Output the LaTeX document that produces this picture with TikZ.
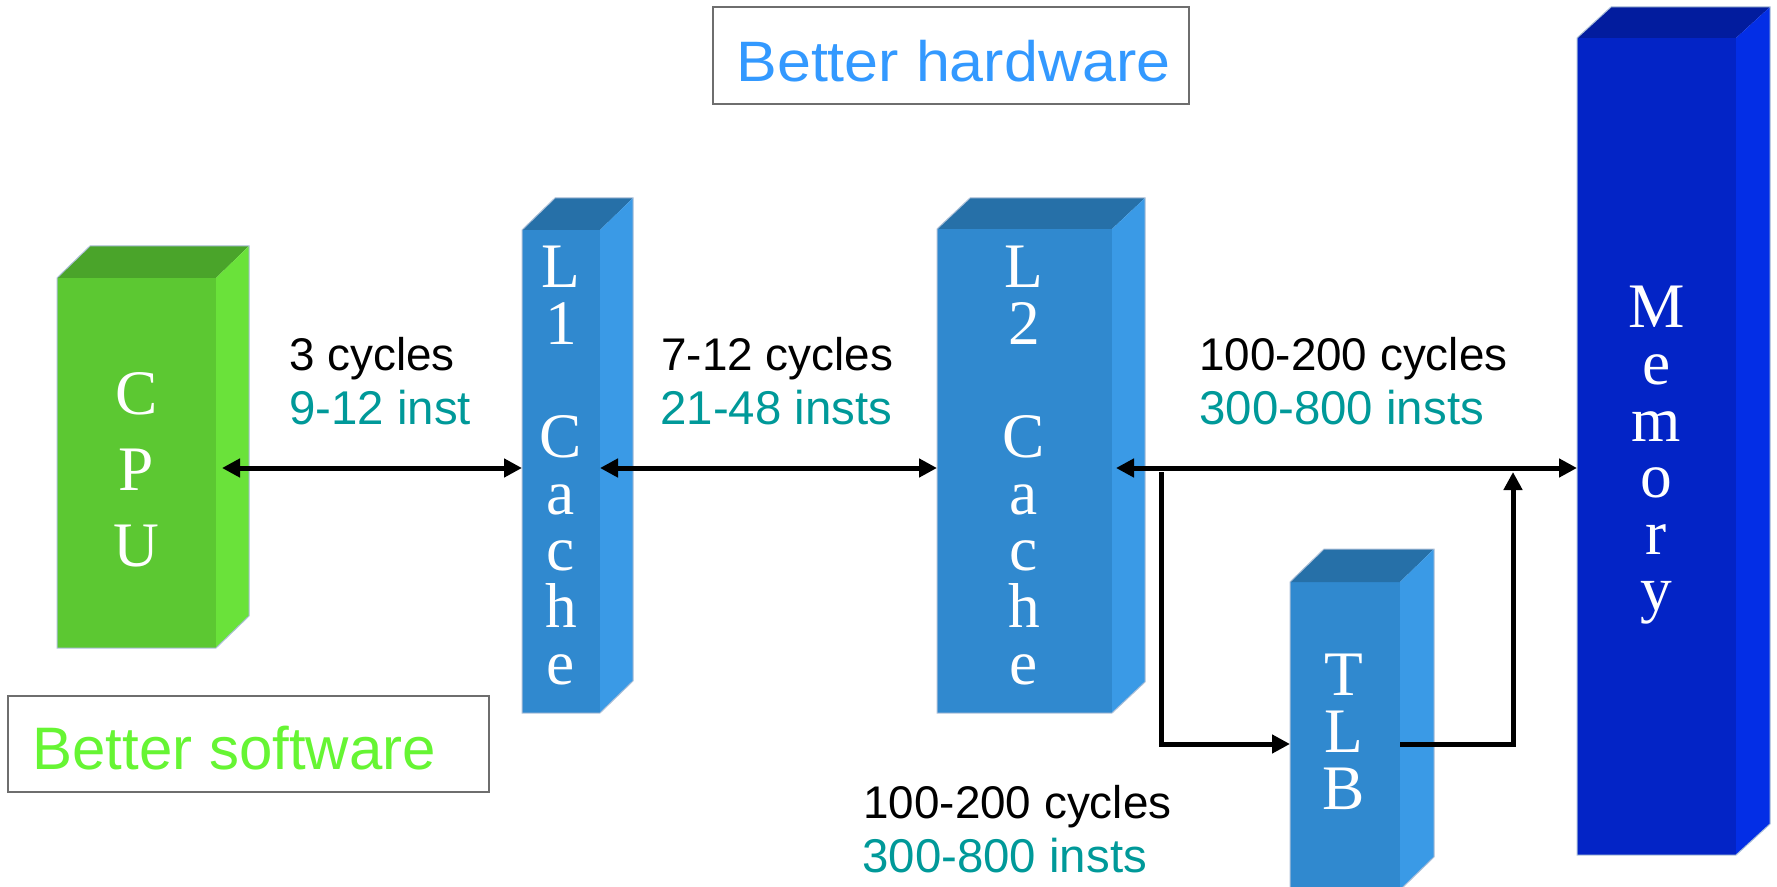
\documentclass[tikz,border=0pt]{standalone}
\usepackage{fontspec}
\setmainfont{Liberation Serif}
\newfontfamily\lblfont{Liberation Sans}
\newfontfamily\hwfont[FakeStretch=1.07]{Liberation Sans}
\usetikzlibrary{arrows.meta,calc}
\definecolor{cpuF}{RGB}{92,200,50}
\definecolor{cpuT}{RGB}{74,164,42}
\definecolor{cpuS}{RGB}{106,226,58}
\definecolor{cacF}{RGB}{48,137,207}
\definecolor{cacT}{RGB}{38,112,168}
\definecolor{cacS}{RGB}{58,154,230}
\definecolor{memF}{RGB}{3,36,198}
\definecolor{memT}{RGB}{2,28,158}
\definecolor{memS}{RGB}{3,46,230}
\definecolor{instC}{RGB}{0,153,153}
\definecolor{hwC}{RGB}{51,153,255}
\definecolor{swC}{RGB}{102,245,51}
\definecolor{boxedge}{RGB}{110,110,110}
\definecolor{cubeedge}{RGB}{170,190,215}
\newcommand{\cubefaces}[5]{%
  \fill[#4] (#1.north west) -- ($(#1.north west)+(#2,#3)$) -- ($(#1.north east)+(#2,#3)$) -- (#1.north east) -- cycle;
  \fill[#5] (#1.north east) -- ($(#1.north east)+(#2,#3)$) -- ($(#1.south east)+(#2,#3)$) -- (#1.south east) -- cycle;
  \draw[cubeline] (#1.south west) -- (#1.north west) -- ($(#1.north west)+(#2,#3)$) -- ($(#1.north east)+(#2,#3)$) -- ($(#1.south east)+(#2,#3)$) -- (#1.south east) -- cycle;}
\begin{document}
\begin{tikzpicture}[x=0.5pt,y=-0.5pt,
  front/.style={inner sep=0pt, outer sep=0pt},
  cpufront/.style={front, fill=cpuF},
  cacfront/.style={front, fill=cacF},
  memfront/.style={front, fill=memF},
  cubeline/.style={draw=cubeedge, line width=0.5pt, line join=miter},
  boxtext/.style={text=white, align=center, inner sep=0pt, anchor=north, font=\fontsize{31.7}{28.3}\selectfont},
  lbl/.style={anchor=base west, inner sep=0pt},
  cyc/.style={lbl, text=black, font=\lblfont\fontsize{22.9}{27}\selectfont},
  inst/.style={lbl, text=instC, font=\lblfont\fontsize{23.7}{28}\selectfont},
  wire/.style={line width=2.5pt, line join=miter},
  >={Triangle[length=9pt,width=9pt]},
  framebox/.style={draw=boxedge, line width=0.9pt, inner sep=0pt}]
\useasboundingbox (0,0) rectangle (1777,887);

% front faces
\node[cpufront, minimum width=79.5pt, minimum height=185pt] (cpu) at (136.5,463) {};
\node[cacfront, minimum width=39pt, minimum height=241.5pt] (l1) at (561,471.5) {};
\node[cacfront, minimum width=87.5pt, minimum height=242pt] (l2) at (1024.5,471) {};
\node[cacfront, minimum width=55pt, minimum height=154pt] (tlb) at (1345,736) {};
\node[memfront, minimum width=79.5pt, minimum height=408.5pt] (mem) at (1656.5,446.5) {};

\cubefaces{cpu}{33}{-32}{cpuT}{cpuS}
\cubefaces{l1}{33}{-32}{cacT}{cacS}
\cubefaces{l2}{33}{-31}{cacT}{cacS}
\cubefaces{tlb}{34}{-33}{cacT}{cacS}
\cubefaces{mem}{34}{-31}{memT}{memS}

% texts on the blocks
\node[boxtext, font=\fontsize{31.7}{38}\selectfont] (cputext) at (136.5,372) {C\\P\\U};
\node[boxtext] (l1text) at (561,246) {L\\1\\[28.3pt]C\\a\\c\\h\\e};
\node[boxtext] (l2text) at (1024,246) {L\\2\\[28.3pt]C\\a\\c\\h\\e};
\node[boxtext] (tlbtext) at (1344,654) {T\\L\\B};
\node[boxtext] (memtext) at (1656.5,286) {M\\e\\m\\o\\r\\y};

% connectors
\coordinate (busy) at (0,468);
\coordinate (cpuport) at ($(cpu.east |- busy)+(6,0)$);
\coordinate (split) at (1161,472);
\coordinate (merge) at (1513,472);
\coordinate (tlby) at (0,744);
\draw[wire,<->] (cpuport) -- (l1.west |- busy);
\draw[wire,<->] (l1.east |- busy) -- (l2.west |- busy);
\draw[wire,<->] ($(l2.east |- busy)+(4,0)$) -- (mem.west |- busy);
\draw[wire,->] (split) |- (tlb.west |- tlby);
\draw[wire,->] (tlb.east |- tlby) -| (merge);

% latency labels
\node[cyc] (c1) at (289,371) {3 cycles};
\node[inst] (i1) at (289,424) {9-12 inst};
\node[cyc] (c2) at (661,371) {7-12 cycles};
\node[inst] (i2) at (660,424) {21-48 insts};
\node[cyc] (c3) at (1199,371) {100-200 cycles};
\node[inst] (i3) at (1199,424) {300-800 insts};
\node[cyc] (c4) at (863,818) {100-200 cycles};
\node[inst] (i4) at (862,872) {300-800 insts};

% framed captions
\node[framebox, minimum width=238pt, minimum height=48.5pt] (hwbox) at (951,55.5) {};
\node[anchor=base west, inner sep=0pt, text=hwC, font=\hwfont\fontsize{28.5}{32}\selectfont] (hwtext) at (736,82) {Better hardware};
\node[framebox, minimum width=240.5pt, minimum height=48pt] (swbox) at (248.5,744) {};
\node[anchor=base west, inner sep=0pt, text=swC, font=\lblfont\fontsize{30}{34}\selectfont] (swtext) at (32,769) {Better software};
\end{tikzpicture}
\end{document}
